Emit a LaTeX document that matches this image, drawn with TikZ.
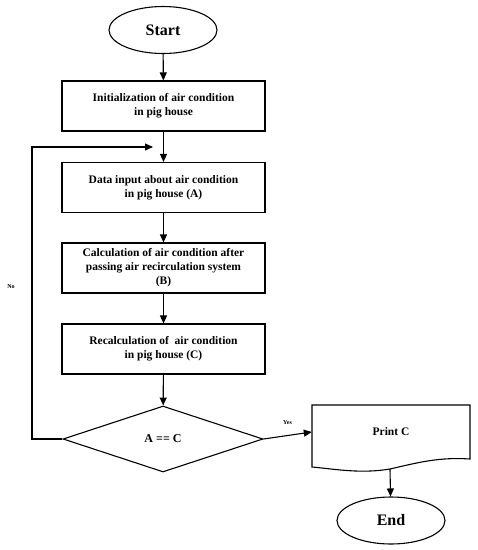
\documentclass[tikz,border=0pt]{standalone}
\usepackage{fontspec}
\setmainfont{Liberation Serif}
\usetikzlibrary{shapes.geometric,arrows.meta}
\begin{document}
\begin{tikzpicture}[x=1pt,y=-1pt,
  lw/.style={line width=1.1pt},
  arr/.style={lw,-{Triangle[length=8pt,width=7pt]}},
  procbox/.style={draw,lw,rectangle,minimum width=203pt,minimum height=50pt,inner sep=0pt,align=center,font=\fontsize{11.5}{14}\selectfont\bfseries},
  term/.style={draw,lw,ellipse,minimum width=108pt,minimum height=47pt,inner sep=0pt,font=\fontsize{16}{18}\selectfont\bfseries},
  decis/.style={draw,lw,diamond,minimum width=200pt,minimum height=66pt,inner sep=0pt,font=\fontsize{12}{14}\selectfont\bfseries},
  small/.style={font=\fontsize{6}{7}\selectfont\bfseries,inner sep=0pt}]
\useasboundingbox (0,0) rectangle (478,550);
\node[term] (start) at (163,30) {Start};
\node[procbox] (init) at (163.5,106) {Initialization of air condition\\in pig house};
\node[procbox] (data) at (163.5,187.5) {Data input about air condition\\in pig house (A)};
\node[procbox] (calc) at (163.5,268) {Calculation of air condition after\\passing air recirculation system\\(B)};
\node[procbox] (recalc) at (163.5,349) {Recalculation of\ \ air condition\\in pig house (C)};
\node[decis] (dec) at (163,439) {A == C};
\node[inner sep=0pt,minimum width=158pt,minimum height=55pt,font=\fontsize{11.5}{14}\selectfont\bfseries] (print) at (391,432) {Print C};
\draw[lw] (312,405) -- (470,405) -- (470,459)
  .. controls (440,457) and (420,462) .. (390,469)
  .. controls (360,474) and (335,469) .. (312,467) -- cycle;
\coordinate (pbot) at (390,469);
\node[term] (end) at (391,520.5) {End};
\coordinate (lb) at (32,439);
\coordinate (lt) at (32,147);
\coordinate (lin) at (153,147);
\node[small] (no) at (11,287) {No};
\node[small] (yes) at (287.5,423) {Yes};
\draw[arr] (start) -- (init);
\draw[arr] (init) -- (data);
\draw[arr] (data) -- (calc);
\draw[arr] (calc) -- (recalc);
\draw[arr] (recalc) -- (dec);
\draw[arr] (dec.west) -- (lb) -- (lt) -- (lin);
\draw[arr] (dec.east) -- (print.west);
\draw[arr] (pbot) -- (end);
\end{tikzpicture}
\end{document}
